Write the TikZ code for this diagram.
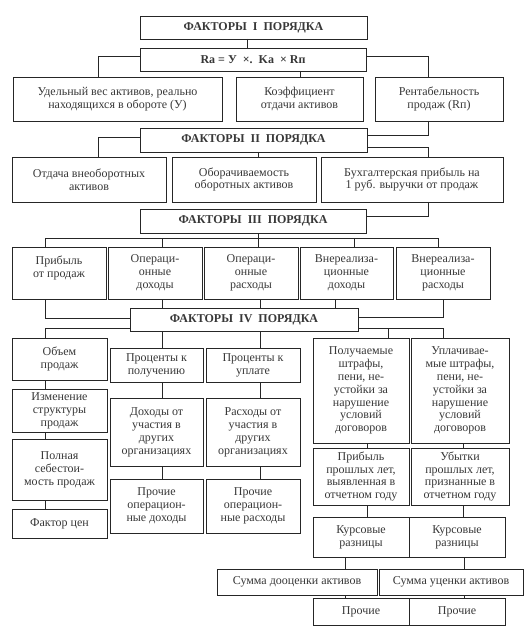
\documentclass[tikz,border=0pt]{standalone}
\usepackage{fontspec}
\setmainfont{Liberation Serif}
\tikzset{
  box/.style={draw=black!85, line width=0.6pt, inner sep=0pt, outer sep=0pt, align=center,
    font=\fontsize{12}{12.9}\selectfont, text=black!78},
  hdr/.style={box, font=\bfseries\fontsize{12}{12.9}\selectfont},
  con/.style={draw=black!85, line width=0.6pt}
}
\newcommand\bx[7][box]{\node[#1, minimum width={(#5-#3)*1pt}, minimum height={(#6-#4)*1pt}] (#2) at ({(#3+#5)/2},{(#4+#6)/2}) {#7};}
\begin{document}
\begin{tikzpicture}[x=1pt,y=-1pt]
\fill[white] (0,0) rectangle (527,628);
\useasboundingbox (0,0) rectangle (527,628);
% level I
\bx[hdr]{f1}{140}{16}{367}{39}{ФАКТОРЫ~~I~~ПОРЯДКА}
\bx[hdr]{ra}{140}{48}{366}{71}{Ra = У~~×.~~Ka~~× Rп}
\bx{yb}{13}{77}{222}{121}{Удельный вес активов, реально\\находящихся в обороте (У)}
\bx{kb}{236}{77}{363}{121}{Коэффициент\\отдачи активов}
\bx{rb}{375}{77}{503}{121}{Рентабельность\\продаж (Rп)}
% level II
\bx[hdr]{f2}{140}{128}{367}{152}{ФАКТОРЫ~~II~~ПОРЯДКА}
\bx{b1}{12}{157}{166}{202}{Отдача внеоборотных\\активов}
\bx{b2}{172}{157}{316}{202}{Оборачиваемость\\оборотных активов}
\bx{b3}{321}{157}{503}{202}{Бухгалтерская прибыль на\\1 руб. выручки от продаж}
% level III
\bx[hdr]{f3}{140}{209}{366}{233}{ФАКТОРЫ~~III~~ПОРЯДКА}
\bx{c1}{12}{247}{106}{299}{Прибыль\\от продаж\\~}
\bx{c2}{108}{247}{202}{299}{Операци-\\онные\\доходы}
\bx{c3}{204}{247}{298}{299}{Операци-\\онные\\расходы}
\bx{c4}{300}{247}{393}{299}{Внереализа-\\ционные\\доходы}
\bx{c5}{396}{247}{490}{299}{Внереализа-\\ционные\\расходы}
% level IV
\bx[hdr]{f4}{130}{308}{358}{331}{ФАКТОРЫ~~IV~~ПОРЯДКА}
\bx{d1}{12}{338}{107}{380}{Объем\\продаж}
\bx{d2}{12}{389}{107}{432}{Изменение\\структуры\\продаж}
\bx{d3}{12}{439}{107}{500}{Полная\\себестои-\\мость продаж}
\bx{d4}{12}{509}{107}{538}{Фактор цен}
\bx{e1}{110}{348}{203}{382}{Проценты к\\получению}
\bx{e2}{110}{398}{203}{466}{Доходы от\\участия в\\других\\организациях}
\bx{e3}{110}{479}{203}{533}{Прочие\\операцион-\\ные доходы}
\bx{g1}{206}{348}{300}{382}{Проценты к\\уплате}
\bx{g2}{206}{398}{300}{466}{Расходы от\\участия в\\других\\организациях}
\bx{g3}{206}{479}{300}{533}{Прочие\\операцион-\\ные расходы}
\bx{h1}{313}{338}{409}{443}{Получаемые\\штрафы,\\пени, не-\\устойки за\\нарушение\\условий\\договоров}
\bx{h2}{411}{338}{509}{443}{Уплачивае-\\мые штрафы,\\пени, не-\\устойки за\\нарушение\\условий\\договоров}
\bx{j1}{313}{448}{409}{505}{Прибыль\\прошлых лет,\\выявленная в\\отчетном году}
\bx{j2}{411}{448}{509}{505}{Убытки\\прошлых лет,\\признанные в\\отчетном году}
\bx{k1}{313}{517}{409}{557}{Курсовые\\разницы}
\bx{k2}{409}{517}{505}{557}{Курсовые\\разницы}
\bx{m1}{217}{569}{377}{595}{Сумма дооценки активов}
\bx{m2}{379}{569}{523}{595}{Сумма уценки активов}
\bx{p1}{313}{598}{409}{625}{Прочие}
\bx{p2}{409}{598}{505}{625}{Прочие}
% bus coordinates
\coordinate (b3L) at (45,238);
\coordinate (b3R) at (438,238);
\coordinate (b3C) at (258,238);
\coordinate (r4) at (388,328);
% connectors level I
\draw[con] (f1.south -| 247,0) -- (ra.north -| 247,0);
\draw[con] (ra.west |- 0,56) -| (yb.north -| 98,0);
\draw[con] (ra.east |- 0,56) -| (rb.north -| 428,0);
\draw[con] (ra.south -| 300,0) -- (kb.north -| 300,0);
\draw[con] (rb.south -| 428,0) |- (f2.east |- 0,135);
% level II
\draw[con] (f2.west |- 0,137) -| (b1.north -| 98,0);
\draw[con] (f2.south -| 258,0) -- (b2.north -| 258,0);
\draw[con] (f2.east |- 0,147) -| (b3.north -| 428,0);
\draw[con] (b3.south -| 428,0) |- (f3.east |- 0,216);
% level III
\draw[con] (f3.south -| b3C) -- (b3C);
\draw[con] (c1.north -| b3L) -- (b3L) -- (b3R) -- (c5.north -| b3R);
\draw[con] (c2.north -| 162,0) -- (b3L -| 162,0);
\draw[con] (c3.north -| 258,0) -- (b3L -| 258,0);
\draw[con] (c4.north -| 354,0) -- (b3L -| 354,0);
% to level IV
\draw[con] (c1.south -| 45,0) |- (f4.west |- 0,318);
\draw[con] (c2.south -| 162,0) -- (f4.north -| 162,0);
\draw[con] (c3.south -| 260,0) -- (f4.north -| 260,0);
\draw[con] (c4.south -| 335,0) -- (f4.north -| 335,0);
\draw[con] (c5.south -| 443,0) |- (f4.east |- 0,317);
% level IV left column
\draw[con] (f4.west |- 0,328) -| (d1.north -| 45,0);
\draw[con] (d1.south -| 45,0) -- (d2.north -| 45,0);
\draw[con] (d2.south -| 45,0) -- (d3.north -| 45,0);
\draw[con] (d3.south -| 45,0) -- (d4.north -| 45,0);
% middle columns
\draw[con] (f4.south -| 162,0) -- (e1.north -| 162,0);
\draw[con] (e1.south -| 162,0) -- (e2.north -| 162,0);
\draw[con] (e2.south -| 162,0) -- (e3.north -| 162,0);
\draw[con] (f4.south -| 260,0) -- (g1.north -| 260,0);
\draw[con] (g1.south -| 260,0) -- (g2.north -| 260,0);
\draw[con] (g2.south -| 260,0) -- (g3.north -| 260,0);
% right columns
\draw[con] (f4.east |- r4) -| (h2.north -| 443,0);
\draw[con] (h1.north -| r4) -- (r4);
\draw[con] (h1.south -| 367,0) -- (j1.north -| 367,0);
\draw[con] (h2.south -| 463,0) -- (j2.north -| 463,0);
\draw[con] (j1.south -| 367,0) -- (k1.north -| 367,0);
\draw[con] (j2.south -| 463,0) -- (k2.north -| 463,0);
\draw[con] (k1.south -| 345,0) -- (m1.north -| 345,0);
\draw[con] (k2.south -| 464,0) -- (m2.north -| 464,0);
\draw[con] (m1.south -| 345,0) -- (p1.north -| 345,0);
\draw[con] (m2.south -| 464,0) -- (p2.north -| 464,0);
\end{tikzpicture}
\end{document}
